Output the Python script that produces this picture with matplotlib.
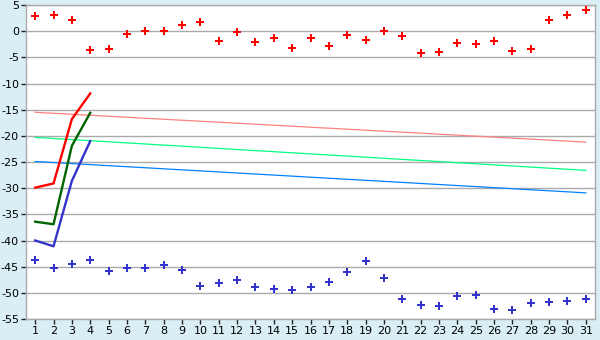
import matplotlib
matplotlib.use("Agg")
import matplotlib.pyplot as plt

days = list(range(1, 32))
upper_pts = [2.9, 3.0, 2.1, -3.65, -3.45, -0.6, 0.0, 0.0, 1.1, 1.7,
             -1.9, -0.2, -2.1, -1.35, -3.3, -1.35, -2.9, -0.8, -1.75, 0.0,
             -1.0, -4.2, -4.0, -2.3, -2.5, -1.9, -3.85, -3.45, 2.1, 3.0, 4.0]
lower_pts = [-43.8, -45.3, -44.55, -43.8, -45.9, -45.3, -45.3, -44.7, -45.7, -48.75,
             -48.1, -47.6, -48.9, -49.3, -49.5, -48.9, -48.0, -46.1, -44.0, -47.2,
             -51.2, -52.4, -52.6, -50.65, -50.5, -53.1, -53.3, -52.0, -51.8, -51.6, -51.2]

line_days = [1, 2, 3, 4]
red_line = [-29.9, -29.1, -16.8, -11.9]
green_line = [-36.4, -36.9, -21.9, -15.6]
blue_line = [-40.0, -41.1, -28.6, -21.0]

trend_days = [1, 31]
pink_trend = [-15.5, -21.2]
lgreen_trend = [-20.3, -26.6]
lblue_trend = [-24.9, -30.9]

yticks = list(range(5, -60, -5))
ytick_labels = [str(v) for v in yticks]

bg = "#d9eef5"
fig = plt.figure(figsize=(6, 3.4), dpi=100, facecolor=bg)
ax = fig.add_axes([26/600, 1-319/340, (595-26)/600, (319-5)/340])
ax.set_facecolor("white")

for v in yticks:
    ax.axhline(v, color="#aaaaaa", lw=1.0, zorder=1)

ax.plot(trend_days, pink_trend, color="#ff8080", lw=0.9, zorder=2)
ax.plot(trend_days, lgreen_trend, color="#00ff80", lw=0.9, zorder=2)
ax.plot(trend_days, lblue_trend, color="#0080ff", lw=0.9, zorder=2)

ax.plot(line_days, red_line, color="#ff0000", lw=1.7, zorder=3)
ax.plot(line_days, green_line, color="#006400", lw=1.7, zorder=3)
ax.plot(line_days, blue_line, color="#3333cc", lw=1.7, zorder=3)

ax.plot(days, upper_pts, linestyle="none", marker="P", ms=5.5, color="#ff0000",
        markeredgewidth=0, zorder=4)
ax.plot(days, lower_pts, linestyle="none", marker="P", ms=5.5, color="#3333cc",
        markeredgewidth=0, zorder=4)

ax.set_xlim(0.5, 31.5)
ax.set_ylim(-55, 5)
ax.set_xticks(days)
ax.set_xticklabels([str(d) for d in days], fontsize=8)
ax.set_yticks(yticks)
ax.set_yticklabels(ytick_labels, fontsize=8)
ax.tick_params(axis="both", direction="out", length=3.5, width=1, color="#222222", pad=1.5)
for s in ax.spines.values():
    s.set_color("#aaaaaa")
    s.set_linewidth(1.0)

fig.savefig("out.png", dpi=100, facecolor=bg)
